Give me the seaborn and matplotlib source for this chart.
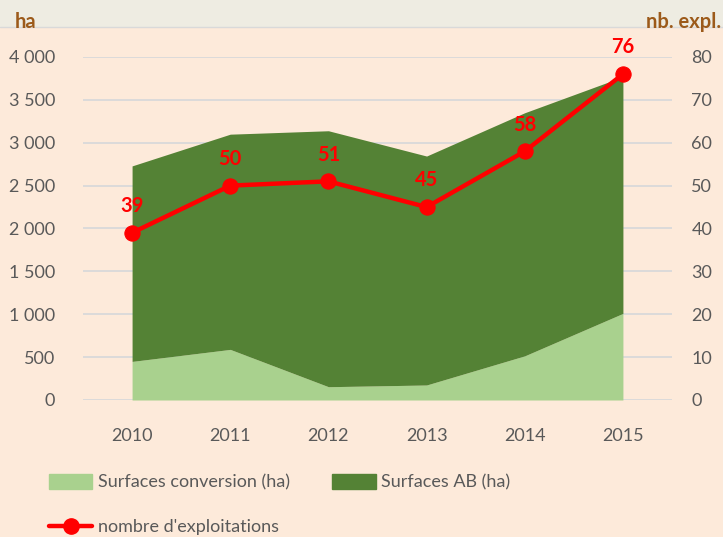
import numpy as np
import pandas as pd
import matplotlib.pyplot as plt
import seaborn as sns
from matplotlib.lines import Line2D
from matplotlib.patches import Patch, Rectangle

# Données
annees = ['2010', '2011', '2012', '2013', '2014', '2015']
surf_conversion = [450, 590, 155, 175, 515, 1010]
surf_ab = [2280, 2510, 2985, 2670, 2835, 2760]
nb_exploitations = [39, 50, 51, 45, 58, 76]

vert_clair = '#A9D18E'
vert_fonce = '#548235'
rouge = '#FF0000'
brun = '#9C5A1A'
gris_txt = '#595959'
fond = '#FDEADA'

sns.set_style('white')
plt.rcParams['font.family'] = ['Lato', 'DejaVu Sans']

df = pd.DataFrame({'annee': annees, 'x': np.arange(len(annees)),
                   'conv': surf_conversion, 'ab': surf_ab, 'nb': nb_exploitations})

fig = plt.figure(figsize=(7.23, 5.37), dpi=100, facecolor=fond)
# bandeau gris en haut
fig.patches.append(Rectangle((0, 1 - 27 / 537), 1, 27 / 537, transform=fig.transFigure,
                             facecolor='#EEECE2', edgecolor='none', zorder=0))
fig.add_artist(Line2D([0, 1], [1 - 27 / 537, 1 - 27 / 537], color='#D9D9D9', lw=1))

ax = fig.add_axes([83 / 723, 1 - 400 / 537, 589 / 723, 343 / 537])
ax.set_facecolor('none')
ax.stackplot(df['x'], df['conv'], df['ab'], colors=[vert_clair, vert_fonce],
             linewidth=0, zorder=2)
ax.set_xlim(-0.5, 5.5)
ax.set_ylim(0, 4000)
ax.set_yticks(range(0, 4001, 500))
ax.set_yticklabels([f'{v:,}'.replace(',', ' ') for v in range(0, 4001, 500)])
ax.set_xticks(df['x'])
ax.set_xticklabels(annees)
ax.grid(axis='y', color='#D9D9D9', lw=1.3, zorder=0)
ax.tick_params(length=0, labelsize=13, labelcolor=gris_txt)
ax.tick_params(axis='x', pad=20)
ax.tick_params(axis='y', pad=20)
for s in ax.spines.values():
    s.set_visible(False)

ax2 = ax.twinx()
sns.lineplot(data=df, x='x', y='nb', ax=ax2, color=rouge, lw=3.2, marker='o',
             markersize=11, markeredgecolor=rouge, zorder=3)
ax2.set_ylim(0, 80)
ax2.set_yticks(range(0, 81, 10))
ax2.set_xlabel('')
ax2.set_ylabel('')
ax2.tick_params(length=0, labelsize=13, labelcolor=gris_txt, pad=14)
for s in ax2.spines.values():
    s.set_visible(False)
for xi, v in zip(df['x'], df['nb']):
    ax2.annotate(str(v), (xi, v), xytext=(0, 12), textcoords='offset points',
                 ha='center', va='bottom', color=rouge, fontsize=14.5, fontweight='bold')

fig.text(15 / 723, 1 - 22 / 537, 'ha', color=brun, fontsize=14.5, fontweight='bold', va='center')
fig.text(721 / 723, 1 - 22 / 537, 'nb. expl.', color=brun, fontsize=14.5, fontweight='bold',
         va='center', ha='right')

handles = [Patch(color=vert_clair, label='Surfaces conversion (ha)'),
           Line2D([], [], color=rouge, lw=3.2, marker='o', markersize=11, label="nombre d'exploitations"),
           Patch(color=vert_fonce, label='Surfaces AB (ha)')]
fig.legend(handles=handles, ncol=2, loc='upper left', bbox_to_anchor=(49 / 723, 1 - 474 / 537),
           frameon=False, fontsize=13, labelcolor=gris_txt, handlelength=2.4,
           handleheight=0.9, handletextpad=0.3, columnspacing=2.35, labelspacing=1.55,
           borderaxespad=0, borderpad=0)

fig.savefig('out.png', dpi=100, facecolor=fond)
